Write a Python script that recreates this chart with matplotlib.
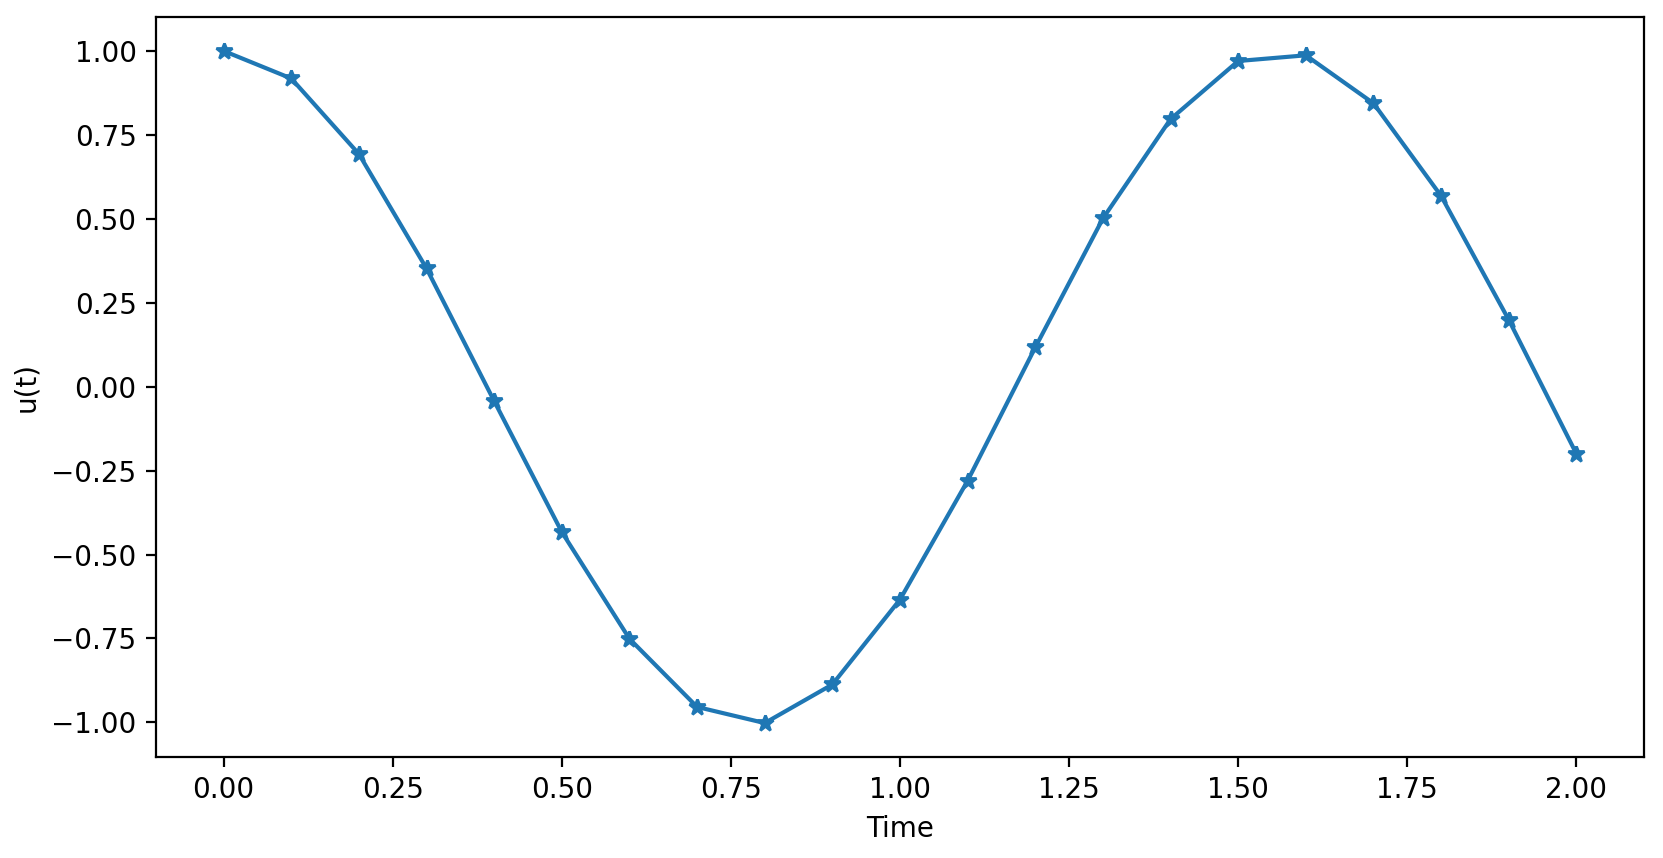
import matplotlib
matplotlib.use('Agg')

import matplotlib.pyplot as plt

# zaman adımları ve çözüm değerleri
t = [0.0, 0.1, 0.2, 0.3, 0.4, 0.5, 0.6, 0.7, 0.8, 0.9, 1.0,
     1.1, 1.2, 1.3, 1.4, 1.5, 1.6, 1.7, 1.8, 1.9, 2.0]
u = [1.000, 0.918, 0.693, 0.352, -0.043, -0.433, -0.751, -0.954, -1.002, -0.887, -0.634,
     -0.280, 0.117, 0.501, 0.797, 0.970, 0.987, 0.844, 0.568, 0.199, -0.200]

fig = plt.figure(figsize=(8.315, 4.29), dpi=200)
fig.subplots_adjust(left=0.0938, right=0.9886, top=0.9798, bottom=0.1181)

plt.plot(t, u, marker='*', color='#1f77b4')
plt.xlabel('Time')
plt.ylabel('u(t)')

plt.savefig('out.png', dpi=200)
plt.close(fig)
